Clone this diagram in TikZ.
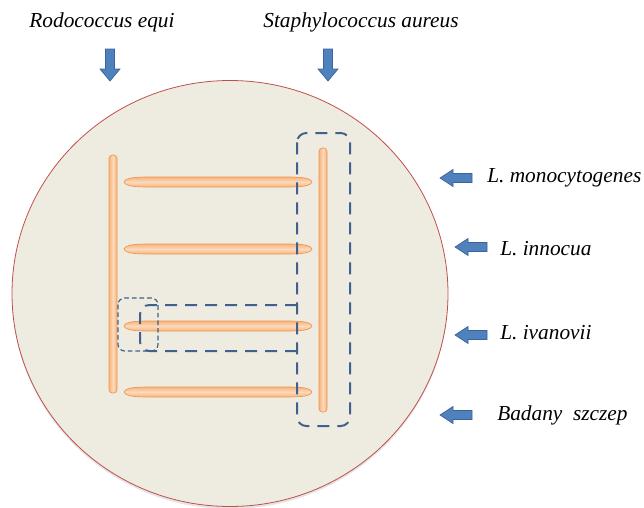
\documentclass[tikz,border=0pt]{standalone}
\usepackage{fontspec}
\setmainfont{Liberation Serif}
\newfontfamily\strainfont{Liberation Serif}
\usepackage{xcolor}
\usepackage{tikz}
\usetikzlibrary{positioning}
\definecolor{kplate}{HTML}{EEEBE1}
\definecolor{kplateedge}{HTML}{C0504D}
\definecolor{krod}{HTML}{F8B57C}
\definecolor{krodlight}{HTML}{FCD9BA}
\definecolor{krodedge}{HTML}{EF9650}
\definecolor{karrow}{HTML}{4F81BD}
\definecolor{karrowedge}{HTML}{3A639A}
\definecolor{kdash}{HTML}{41608C}
\newcommand{\hrod}[3]{% x1, x2, y
  \shade[top color=krod, bottom color=krod, middle color=krodlight,
    draw=krodedge, line width=0.5pt]
    (#1,#3) .. controls (#1+2,#3-5) and (#1+14,#3-5) .. (#1+30,#3-5)
    -- (#2-30,#3-5) .. controls (#2-14,#3-5) and (#2-2,#3-5) .. (#2,#3)
    .. controls (#2-2,#3+5) and (#2-14,#3+5) .. (#2-30,#3+5)
    -- (#1+30,#3+5) .. controls (#1+14,#3+5) and (#1+2,#3+5) .. (#1,#3) -- cycle;
}
\newcommand{\vrod}[3]{% x, y1, y2
  \shade[left color=krod, right color=krod, middle color=krodlight,
    draw=krodedge, line width=0.5pt, rounded corners=2.5pt]
    (#1-4,#2) rectangle (#1+4,#3);
}
\newcommand{\arrowdown}[3]{% x, y top, y tip
  \filldraw[fill=karrow, draw=karrowedge, line width=0.5pt]
    (#1-4.5,#2) -- (#1+4.5,#2) -- (#1+4.5,#3-12) -- (#1+10,#3-12) -- (#1,#3)
    -- (#1-10,#3-12) -- (#1-4.5,#3-12) -- cycle;
}
\newcommand{\arrowleft}[3]{% x tip, y, x tail
  \filldraw[fill=karrow, draw=karrowedge, line width=0.5pt]
    (#3,#2-4.5) -- (#1+13,#2-4.5) -- (#1+13,#2-8.5) -- (#1,#2) -- (#1+13,#2+8.5)
    -- (#1+13,#2+4.5) -- (#3,#2+4.5) -- cycle;
}

\begin{document}
\begin{tikzpicture}[x=0.75pt, y=-0.75pt,
  strain/.style={font=\strainfont\itshape\fontsize{16}{19}\selectfont, inner sep=0pt},
  streak/.style={kdash, line width=1.5pt, dash pattern=on 9pt off 6pt, rounded corners=7pt},
  spot/.style={kdash, line width=0.9pt, dash pattern=on 3.5pt off 2.2pt, rounded corners=5pt}]

  \useasboundingbox (0,0) rectangle (644,508);

  %% Agar plate
  \fill[black!10] (230,296) ellipse [x radius=218, y radius=213];
  \filldraw[fill=kplate, draw=kplateedge, line width=0.6pt]
    (230,293.5) ellipse [x radius=218, y radius=213];

  %% Reference strains (top)
  \node[strain] (rodo) at (102,22) {Rodococcus equi};
  \node[strain] (staph) at (361,22) {Staphylococcus aureus};
  \arrowdown{110}{49}{81}
  \arrowdown{328}{49}{81}

  %% Streaks
  \vrod{113}{155}{393}
  \vrod{323}{148}{412}
  \hrod{124}{312}{182}
  \hrod{124}{312}{249}
  \hrod{124}{312}{326}
  \hrod{124}{312}{392}

  %% Zones
  \draw[streak] (297,133) rectangle (350,426);
  \draw[streak] (297,305) -- (140,305) -- (140,351) -- (297,351);
  \draw[spot] (118,298) rectangle (158,351);

  %% Tested strains (right)
  \arrowleft{440}{178}{472}
  \node[strain, anchor=west] (mono) at (487,178) {L. monocytogenes};
  \arrowleft{455}{247}{487}
  \node[strain, anchor=west] (innocua) at (500,249) {L. innocua};
  \arrowleft{455}{335}{487}
  \node[strain, anchor=west] (ivanovii) at (500,333) {L. ivanovii};
  \arrowleft{440}{415}{472}
  \node[strain, anchor=west] (badany) at (497,415) {Badany~~szczep};

\end{tikzpicture}
\end{document}
